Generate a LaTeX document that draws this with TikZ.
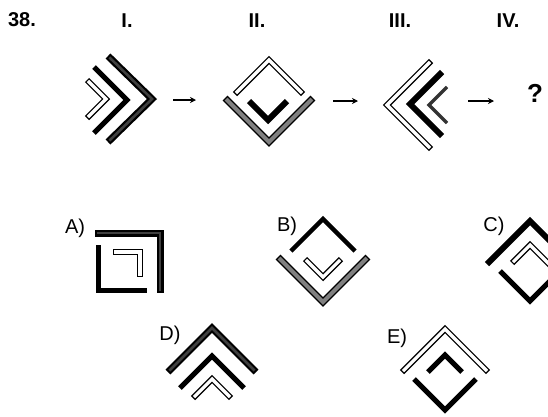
\documentclass[tikz,border=0pt]{standalone}
\usepackage{fontspec}
\setmainfont{Liberation Sans}
\usetikzlibrary{arrows.meta}
\begin{document}
\begin{tikzpicture}[x=1pt,y=-1pt,
  line join=miter,line cap=butt,
  solidbar/.style={draw=black,line width=#1},
  solidbar/.default=5pt,
  hollowbar/.style={draw=black,line width=6pt,
     postaction={draw=white,line width=3.2pt,shorten <=1.4pt,shorten >=1.4pt}},
  greybar/.style={draw=black,line width=7pt,
     postaction={draw=black!50,line width=4pt,shorten <=1.5pt,shorten >=1.5pt}},
  darkbar/.style={draw=black,line width=7pt,
     postaction={draw=black!75,line width=2.6pt,shorten <=2pt,shorten >=2pt}},
  title/.style={font=\bfseries\fontsize{20}{22}\selectfont,inner sep=0pt},
  optlabel/.style={font=\fontsize{20}{22}\selectfont,inner sep=0pt},
  seqarrow/.style={line width=1.2pt,-{Stealth[length=6pt,width=6pt]}}]
\useasboundingbox (0,0) rectangle (548,416);
% titles
\node[title] (n38) at (22,20) {38.};
\node[title] (tI) at (127,21) {I.};
\node[title] (tII) at (257,21) {II.};
\node[title] (tIII) at (400,21) {III.};
\node[title] (tIV) at (508,21) {IV.};
% figure I
\draw[darkbar] (108,56) -- (152,99) -- (108,142);
\draw[solidbar] (94,67) -- (127,100) -- (94,133);
\draw[hollowbar] (87,80) -- (106,99) -- (87,118);
% figure II
\draw[hollowbar] (235,94) -- (269,60) -- (303,94);
\draw[greybar] (225,98) -- (269,142) -- (313,98);
\draw[solidbar=6pt] (249,101) -- (268,120) -- (287,101);
% figure III
\draw[hollowbar] (431,61) -- (387,105) -- (431,149);
\draw[solidbar=6pt] (442,72) -- (410,104) -- (442,136);
\draw[draw=black!80,line width=3.5pt] (447,87) -- (429,105) -- (447,123);
% question mark
\node[font=\bfseries\fontsize{26}{28}\selectfont,inner sep=0pt] (q) at (535,93) {?};
% arrows
\coordinate (a1s) at (173,100); \coordinate (a1e) at (196,100);
\coordinate (a2s) at (333,101); \coordinate (a2e) at (358,101);
\coordinate (a3s) at (468,101); \coordinate (a3e) at (494,101);
\draw[seqarrow] (a1s) -- (a1e);
\draw[seqarrow] (a2s) -- (a2e);
\draw[seqarrow] (a3s) -- (a3e);
% option A
\node[optlabel] (lA) at (75,228) {A)};
\draw[darkbar] (95,233) -- (160,233) -- (160,293);
\draw[solidbar] (98,245) -- (98,290) -- (147,290);
\draw[hollowbar] (113,252) -- (140,252) -- (140,277);
% option B
\node[optlabel] (lB) at (287,226) {B)};
\draw[solidbar=4.5pt] (291,251) -- (323,219) -- (355,251);
\draw[greybar] (278,257) -- (323,302) -- (368,257);
\draw[hollowbar] (305,259) -- (323,277) -- (341,259);
% option C
\node[optlabel] (lC) at (494,226) {C)};
\draw[solidbar=6pt] (487,264) -- (530,221) -- (580,271);
\draw[hollowbar] (512,263) -- (530,245) -- (560,275);
\draw[solidbar] (500,271) -- (530,301) -- (560,271);
% option D
\node[optlabel] (lD) at (170,335) {D)};
\draw[darkbar] (168,372) -- (212,328) -- (256,372);
\draw[solidbar] (180,388) -- (212,356) -- (244,388);
\draw[hollowbar] (193,398) -- (212,379) -- (231,398);
% option E
\node[optlabel] (lE) at (397,338) {E)};
\draw[hollowbar] (402,372) -- (445,329) -- (488,372);
\draw[solidbar] (428,372) -- (445,355) -- (462,372);
\draw[solidbar] (414,379) -- (445,410) -- (476,379);
\end{tikzpicture}
\end{document}
